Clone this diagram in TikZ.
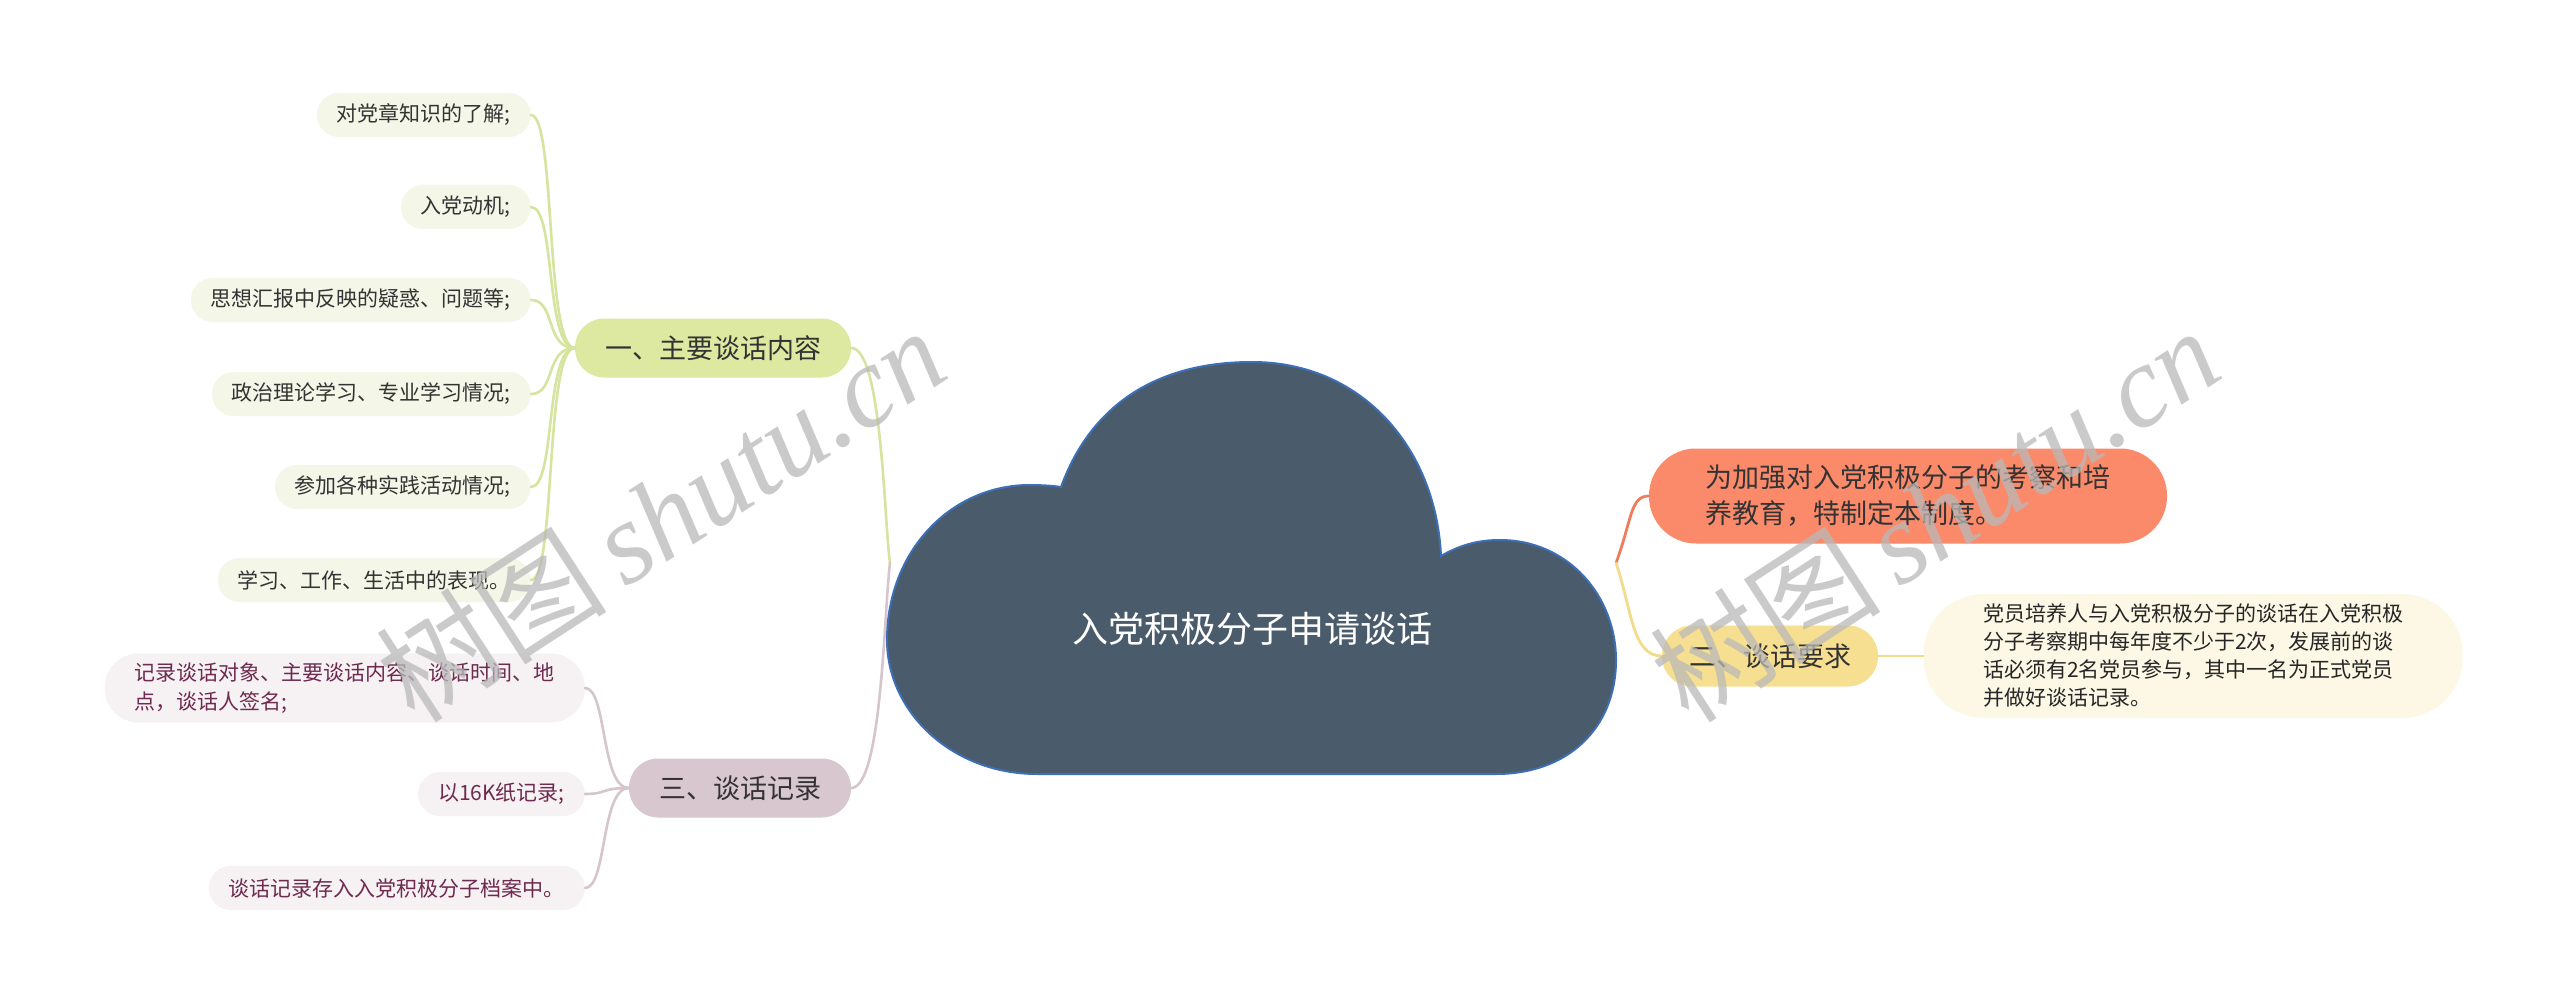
\documentclass[tikz,border=0pt]{standalone}
\usepackage{fontspec}
\setmainfont{Noto Sans CJK SC}
\newfontfamily\wmlatin{Liberation Serif}
\definecolor{cloudfill}{HTML}{4A5B6B}
\definecolor{cloudline}{HTML}{3D6FB6}
\definecolor{gA}{HTML}{DDE8A1}
\definecolor{gAline}{HTML}{D5E49E}
\definecolor{gAleaf}{HTML}{F4F6E8}
\definecolor{pC}{HTML}{D9C7D0}
\definecolor{pCline}{HTML}{D6C5CD}
\definecolor{pCleaf}{HTML}{F6F1F3}
\definecolor{pCtext}{HTML}{6E2A4F}
\definecolor{oB}{HTML}{FB8A6B}
\definecolor{oBline}{HTML}{EE7D5C}
\definecolor{yB}{HTML}{F6DF91}
\definecolor{yBline}{HTML}{F2DC8C}
\definecolor{yleaf}{HTML}{FDF8E5}
\definecolor{txt}{HTML}{333333}
\begin{document}
\begin{tikzpicture}[x=1pt,y=-1pt,
  leafA/.style={rounded corners=22pt, fill=gAleaf, minimum height=44pt, inner xsep=20pt, inner ysep=0pt, font=\fontsize{21}{28}\selectfont, text=txt, anchor=east},
  leafC/.style={rounded corners=22pt, fill=pCleaf, minimum height=44pt, inner xsep=20pt, inner ysep=0pt, font=\fontsize{21}{29}\selectfont, text=pCtext, anchor=east},
  branch/.style={rounded corners=29pt, minimum height=59pt, inner xsep=30pt, inner ysep=0pt, font=\fontsize{27}{36}\selectfont, text=txt},
  lineA/.style={draw=gAline, line width=2.6pt, line cap=round},
  lineC/.style={draw=pCline, line width=2.6pt, line cap=round},
  lineO/.style={draw=oBline, line width=2.8pt, line cap=round},
  lineY/.style={draw=yBline, line width=2.8pt, line cap=round},
  wm/.style={text=gray!55, opacity=0.75, rotate=33, font=\fontsize{116}{116}\selectfont}
]
\useasboundingbox (0,0) rectangle (2560,1003);
\fill[white] (0,0) rectangle (2560,1003);

% attach points on the cloud
\coordinate (rl) at (890,563);
\coordinate (rr) at (1616,563);

% branch 1
\node[branch, fill=gA] (b1) at (713,348) {一、主要谈话内容};
\node[leafA] (a1) at (531,115) {对党章知识的了解;};
\node[leafA] (a2) at (531,207) {入党动机;};
\node[leafA] (a3) at (531,300) {思想汇报中反映的疑惑、问题等;};
\node[leafA] (a4) at (531,394) {政治理论学习、专业学习情况;};
\node[leafA] (a5) at (531,487) {参加各种实践活动情况;};
\node[leafA] (a6) at (531,580) {学习、工作、生活中的表现。};

% branch 3
\node[branch, fill=pC] (b3) at (740,788) {三、谈话记录};
\node[leafC, rounded corners=34pt, minimum height=69pt, align=left, inner xsep=30pt] (c1) at (585,688) {记录谈话对象、主要谈话内容、谈话时间、地\\点，谈话人签名;};
\node[leafC] (c2) at (585,794) {以16K纸记录;};
\node[leafC] (c3) at (585,888) {谈话记录存入入党积极分子档案中。};

% right side
\node[rounded corners=47pt, fill=oB, minimum height=95pt, minimum width=518pt, align=left, inner xsep=0pt, font=\fontsize{27}{36}\selectfont, text=txt] (o1) at (1908,496) {为加强对入党积极分子的考察和培\\养教育，特制定本制度。};
\node[branch, fill=yB, minimum height=61pt, inner xsep=27pt, rounded corners=30pt] (y1) at (1770,656) {二、谈话要求};
\node[rounded corners=60pt, fill=yleaf, minimum height=124pt, minimum width=539pt, align=left, inner xsep=0pt, font=\fontsize{21}{28}\selectfont, text=black!85] (y2) at (2193,656) {党员培养人与入党积极分子的谈话在入党积极\\分子考察期中每年度不少于2次，发展前的谈\\话必须有2名党员参与，其中一名为正式党员\\并做好谈话记录。};

% connectors
\foreach \n in {a1,a2,a3,a4,a5,a6}
  \draw[lineA] (b1.west) .. controls +(-30,0) and +(25,0) .. (\n.east);
\foreach \n in {c1,c2,c3}
  \draw[lineC] (b3.west) .. controls +(-28,0) and +(22,0) .. (\n.east);
\draw[lineA] (b1.east) .. controls (882,348) and (884,520) .. (rl);
\draw[lineC] (b3.east) .. controls (882,788) and (884,610) .. (rl);
\draw[lineO] (rr) .. controls (1632,520) and (1630,496) .. (o1.west);
\draw[lineY] (rr) .. controls (1632,610) and (1632,656) .. (y1.west);
\draw[lineY] (y1.east) -- (y2.west);

% cloud root
\draw[fill=cloudfill, draw=cloudline, line width=2pt]
  (1061,487) .. controls (1092,402) and (1160,362) .. (1252,362)
  .. controls (1362,362) and (1436,448) .. (1441,556)
  .. controls (1460,545) and (1478,540) .. (1500,540)
  .. controls (1568,540) and (1616,596) .. (1616,660)
  .. controls (1616,728) and (1568,774) .. (1496,774)
  -- (1037,774)
  .. controls (952,774) and (887,712) .. (887,640)
  .. controls (887,552) and (950,485) .. (1030,485)
  .. controls (1044,485) and (1054,486) .. (1061,487) -- cycle;
\node[text=white, font=\fontsize{36}{40}\selectfont] (root) at (1252,629) {入党积极分子申请谈话};

% watermarks
\node[wm] (w1) at (660,514) {树图\,{\wmlatin\itshape shutu.cn}};
\node[wm] (w2) at (1934,514) {树图\,{\wmlatin\itshape shutu.cn}};
\end{tikzpicture}
\end{document}
